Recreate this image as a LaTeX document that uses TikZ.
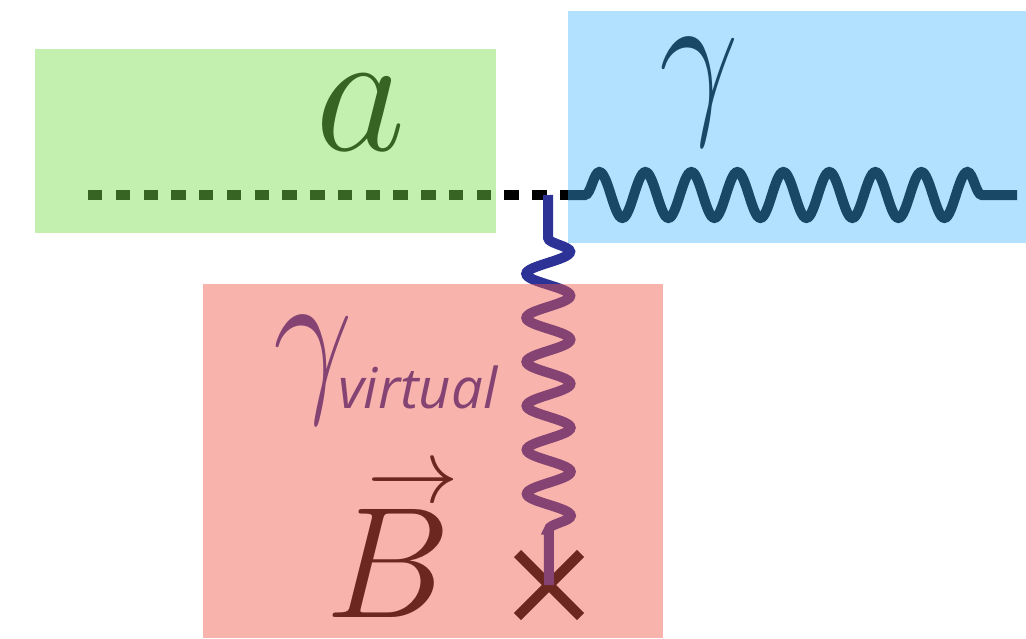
\RequirePackage{fix-cm}
\documentclass[tikz,border=0pt]{standalone}
\usepackage{fontspec}
\newfontfamily\virtfont{Open Sans}
\usetikzlibrary{decorations.pathmorphing,shapes.misc}
\definecolor{axgreen}{RGB}{122,222,77}
\definecolor{phblue}{RGB}{62,180,255}
\definecolor{bred}{RGB}{239,88,71}
\definecolor{virtblue}{RGB}{45,50,150}

\begin{document}
\begin{tikzpicture}[
    box/.style={fill opacity=0.45},
    scalar/.style={line width=1mm,dash pattern=on 4.1pt off 3.8pt},
    photon/.style={line width=1mm,decorate,decoration={snake,segment length=4.6mm,amplitude=2.3mm,pre length=1.7mm,post length=1.6mm}},
    vphoton/.style={line width=1mm,virtblue,decorate,decoration={snake,segment length=4.4mm,amplitude=2.2mm,pre length=4.3mm,post length=3.7mm}},
    lbl/.style={inner sep=0pt,anchor=base}]
  \useasboundingbox (0,0) rectangle (10.26,-6.38);
  \coordinate (astart) at (0.88,-1.95);
  \coordinate (vtx) at (5.48,-1.95);
  \coordinate (gstart) at (5.68,-1.95);
  \coordinate (gend) at (10.17,-1.95);
  \node[draw,cross out,line width=1mm,minimum size=6.3mm,inner sep=0pt,outer sep=0pt] (bsrc) at (5.49,-5.85) {};
  \draw[scalar] (astart) -- (gstart);
  \draw[photon] (gstart) -- (gend);
  \draw[vphoton] (vtx) -- (bsrc.center);
  \node[lbl] (alabel) at (3.61,-1.50) {\fontsize{50}{50}\selectfont$a$};
  \node[lbl] (glabel) at (6.99,-1.12) {\fontsize{49}{49}\selectfont\scalebox{0.82}[1]{$\gamma$}};
  \node[lbl,anchor=base west,virtblue] (gvlabel) at (2.73,-3.90)
    {\fontsize{49}{49}\selectfont\scalebox{0.82}[1]{$\gamma$}\hspace{-0.15cm}\raisebox{-0.18cm}{\fontsize{16}{16}\selectfont\virtfont\itshape virtual}};
  \node[lbl] (blabel) at (3.88,-6.03)
    {\fontsize{45}{45}\selectfont$\mathop{B}\limits^{\hbox{\fontsize{26}{26}\selectfont$\kern12pt\rightarrow$}}$};
  \fill[box,axgreen] (0.35,-0.49) rectangle (4.96,-2.33);
  \fill[phblue,fill opacity=0.4] (5.68,-0.11) rectangle (10.26,-2.43);
  \fill[box,bred] (2.03,-2.84) rectangle (6.63,-6.38);
\end{tikzpicture}
\end{document}
